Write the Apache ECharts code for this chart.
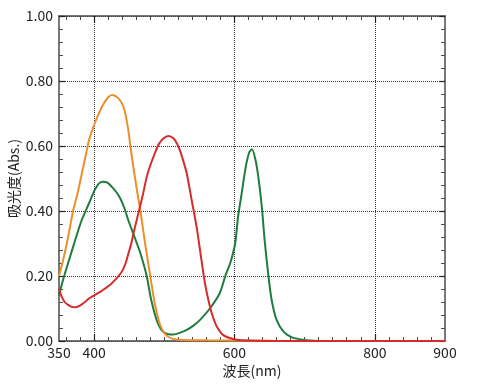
<!DOCTYPE html>
<html>
<head>
<meta charset="utf-8">
<script src="https://cdn.jsdelivr.net/npm/echarts@6/dist/echarts.min.js"></script>
<style>html,body{margin:0;padding:0;background:#fff}#c{width:487px;height:385px}</style>
</head>
<body>
<div id="c"></div>
<script>
// ---- data ----
const xLabels = [350, 400, 600, 800, 900];
const xMajor = [400, 600, 800];
const xMinor = [360,380,420,440,460,480,500,520,540,560,580,620,640,660,680,700,720,740,760,780,820,840,860,880];

const orangeNm  = [350,356,363,370,376,382,388,393,401,411,420,426,434,441,445,449,453,457,461,466,472,480,487,494,501,510,525,560,650,660];
const orangeAbs = [0.20,0.25,0.32,0.40,0.45,0.51,0.57,0.62,0.67,0.72,0.75,0.757,0.748,0.725,0.695,0.645,0.58,0.52,0.465,0.40,0.31,0.20,0.11,0.05,0.022,0.008,0.003,0.002,0.001,0.0];

const greenNm  = [350,356,363,373,382,392,401,407,413,419,425,431,437,443,449,456,461,466,475,481,489,495,500,506,513,522,532,542,551,565,579,587,594,601,605,610,616,621,625,630,634,639,643,648,653,660,670,682,700,720];
const greenAbs = [0.14,0.19,0.24,0.31,0.37,0.42,0.465,0.485,0.49,0.487,0.475,0.46,0.44,0.41,0.37,0.33,0.30,0.27,0.20,0.13,0.065,0.037,0.026,0.021,0.02,0.025,0.034,0.048,0.065,0.10,0.147,0.20,0.24,0.30,0.38,0.45,0.535,0.58,0.59,0.557,0.505,0.413,0.31,0.208,0.126,0.065,0.029,0.011,0.003,0.0];

const redNm  = [350,354,358,363,368,373,378,382,387,392,401,410,416,423,430,436,440,445,449,453,456,461,465,470,475,480,487,492,499,506,513,518,522,527,532,539,546,553,558,565,570,575,584,598,610,650,900];
const redAbs = [0.16,0.136,0.12,0.111,0.105,0.104,0.107,0.112,0.12,0.13,0.142,0.153,0.162,0.173,0.188,0.203,0.215,0.24,0.27,0.30,0.33,0.375,0.41,0.455,0.505,0.54,0.58,0.605,0.624,0.631,0.624,0.608,0.588,0.555,0.516,0.434,0.352,0.249,0.177,0.106,0.07,0.044,0.018,0.006,0.002,0.0,0.0];

const yMin = 0, yMax = 1, yStep = 0.2;
const xMin = 350, xMax = 900;

// ---- chart ----
const FONT = '"Noto Sans CJK JP", "Noto Sans", sans-serif';
const axisCol = '#4a4a4a';
const gridLine = {show: true, lineStyle: {color: '#333', width: 1, type: [1, 1]}};
function zip(a, b) { return a.map((v, i) => [v, b[i]]); }

const chart = echarts.init(document.getElementById('c'), null, {renderer: 'canvas'});
const baseX = {type: 'value', min: xMin, max: xMax, gridIndex: 0};
chart.setOption({
  animation: false,
  backgroundColor: '#fff',
  grid: {left: 59, top: 16, right: 42, bottom: 44, containLabel: false, outerBoundsMode: 'none'},
  xAxis: [
    Object.assign({}, baseX, {
      position: 'bottom',
      axisLine: {show: true, onZero: false, lineStyle: {color: axisCol, width: 1.5}},
      axisTick: {show: true, inside: true, length: 4, customValues: xMinor, lineStyle: {color: axisCol, width: 1}},
      axisLabel: {show: true, customValues: xLabels, color: '#222', fontSize: 14, fontFamily: FONT, margin: 5},
      splitLine: {show: false},
      name: '波長(nm)', nameLocation: 'middle', nameGap: 23, nameMoveOverlap: false,
      nameTextStyle: {color: '#222', fontSize: 14, fontFamily: FONT}
    }),
    Object.assign({}, baseX, {
      position: 'bottom',
      axisLine: {show: false, onZero: false},
      axisTick: {show: true, inside: true, length: 7, customValues: xMajor, lineStyle: {color: '#222', width: 1.2}},
      axisLabel: {show: false},
      splitLine: gridLine
    }),
    Object.assign({}, baseX, {
      position: 'top',
      axisLine: {show: true, onZero: false, lineStyle: {color: axisCol, width: 1.5}},
      axisTick: {show: true, inside: true, length: 4, customValues: xMinor, lineStyle: {color: axisCol, width: 1}},
      axisLabel: {show: false},
      splitLine: {show: false}
    }),
    Object.assign({}, baseX, {
      position: 'top',
      axisLine: {show: false, onZero: false},
      axisTick: {show: true, inside: true, length: 7, customValues: xMajor, lineStyle: {color: '#222', width: 1.2}},
      axisLabel: {show: false},
      splitLine: {show: false}
    })
  ],
  yAxis: [
    {
      type: 'value', min: yMin, max: yMax, interval: yStep, position: 'left',
      axisLine: {show: true, onZero: false, lineStyle: {color: axisCol, width: 1.5}},
      axisTick: {show: true, inside: true, length: 6, lineStyle: {color: '#222', width: 1.2}},
      minorTick: {show: true, splitNumber: 5, length: 4, lineStyle: {color: axisCol, width: 1}},
      axisLabel: {color: '#222', fontSize: 14, fontFamily: FONT, margin: 6, formatter: v => v.toFixed(2)},
      splitLine: gridLine,
      name: '吸光度(Abs.)', nameLocation: 'middle', nameGap: 38, nameMoveOverlap: false,
      nameTextStyle: {color: '#222', fontSize: 14, fontFamily: FONT}
    },
    {
      type: 'value', min: yMin, max: yMax, interval: yStep, position: 'right',
      axisLine: {show: true, onZero: false, lineStyle: {color: axisCol, width: 1.5}},
      axisTick: {show: true, inside: true, length: 6, lineStyle: {color: '#222', width: 1.2}},
      minorTick: {show: true, splitNumber: 5, length: 4, lineStyle: {color: axisCol, width: 1}},
      axisLabel: {show: false},
      splitLine: {show: false}
    }
  ],
  series: [
    {type: 'line', name: 'green', data: zip(greenNm, greenAbs), xAxisIndex: 0, yAxisIndex: 0, showSymbol: false, smooth: 0.25, clip: false,
     lineStyle: {color: '#1f7d3c', width: 2}, z: 3},
    {type: 'line', name: 'orange', data: zip(orangeNm, orangeAbs), xAxisIndex: 0, yAxisIndex: 0, showSymbol: false, smooth: 0.25, clip: false,
     lineStyle: {color: '#ec8f2c', width: 2}, z: 4},
    {type: 'line', name: 'red', data: zip(redNm, redAbs), xAxisIndex: 0, yAxisIndex: 0, showSymbol: false, smooth: 0.25, clip: false,
     lineStyle: {color: '#d62b2b', width: 2}, z: 5}
  ]
});
</script>
</body>
</html>
